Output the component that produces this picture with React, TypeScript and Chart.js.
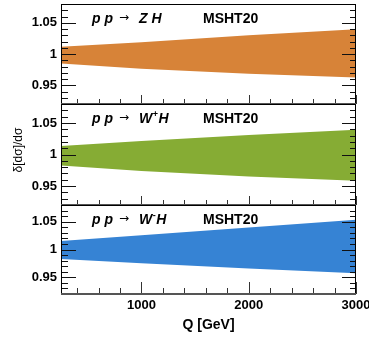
import React, { useEffect, useRef } from "react";
import { Chart, registerables } from "chart.js";

Chart.register(...registerables);

// ---- data ----
const Q = [250, 1000, 2000, 3000];
const zhUpper = [1.0118, 1.019, 1.030, 1.0398];
const zhLower = [0.985, 0.9766, 0.9685, 0.9624];
const wpUpper = [1.0134, 1.0215, 1.0308, 1.0392];
const wpLower = [0.9827, 0.9737, 0.9652, 0.9586];
const wmUpper = [1.0152, 1.0256, 1.0395, 1.0537];
const wmLower = [0.983, 0.9751, 0.9658, 0.9574];
const centralValue = 1;
const xTickValues = [1000, 2000, 3000];
const yTickValues = [0.95, 1, 1.05];
const X_MIN = 250;
const X_MAX = 3000;
const Y_MIN = 0.92;
const Y_MAX = 1.08;
const pdfLabel = "MSHT20";
const xTitle = "Q [GeV]";
const yTitle = "δ[dσ]/dσ";

const FONT = "'Liberation Sans', Arial, sans-serif";

type PanelProps = {
  upper: number[];
  lower: number[];
  color: string;
  boson: string;
  sup: string;
  top: number;
  height: number;
  padTop: number;
  padBottom: number;
  showX: boolean;
  showYTitle: boolean;
  majorX: number;
  minorX: number;
};

function Panel(p: PanelProps) {
  const ref = useRef<HTMLCanvasElement>(null);
  useEffect(() => {
    const framePlugin = {
      id: "frame",
      afterDatasetsDraw(chart: any) {
        const { ctx, chartArea: a, scales } = chart;
        const x = scales.x;
        const y = scales.y;
        ctx.save();
        const seg = (x1: number, y1: number, x2: number, y2: number) => {
          ctx.beginPath();
          ctx.moveTo(x1, y1);
          ctx.lineTo(x2, y2);
          ctx.stroke();
        };
        ctx.lineWidth = 1;
        ctx.strokeStyle = "#111";
        for (let i = 92; i <= 108; i++) {
          const v = i / 100;
          const py = Math.round(y.getPixelForValue(v)) + 0.5;
          const major = i % 5 === 0;
          seg(a.left, py, a.left + (major ? 15 : 7), py);
          seg(a.right - (major ? 14 : 6), py, a.right, py);
        }
        ctx.strokeStyle = "#333";
        for (let q = 400; q <= 3000; q += 200) {
          const px = Math.round(x.getPixelForValue(q)) + 0.5;
          const major = q % 1000 === 0;
          seg(px, a.bottom, px, a.bottom - (major ? p.majorX : p.minorX));
        }
        // frame
        ctx.strokeStyle = "#000";
        ctx.lineWidth = 1;
        seg(Math.round(a.left) + 0.5, a.top, Math.round(a.left) + 0.5, a.bottom);
        seg(Math.round(a.right) - 0.5, a.top, Math.round(a.right) - 0.5, a.bottom);
        seg(a.left, Math.round(a.top) + 0.5, a.right, Math.round(a.top) + 0.5);
        ctx.strokeStyle = "#555";
        ctx.lineWidth = 2;
        seg(a.left, Math.round(a.bottom), a.right, Math.round(a.bottom));
        ctx.restore();
      },
      afterDraw(chart: any) {
        const { ctx, chartArea: a } = chart;
        ctx.save();
        ctx.fillStyle = "#000";
        const base = a.top + 18.5;
        ctx.textBaseline = "alphabetic";
        ctx.font = `italic bold 14px ${FONT}`;
        ctx.fillText("p p", 92, base);
        ctx.font = `12px 'DejaVu Sans', sans-serif`;
        ctx.textBaseline = "middle";
        ctx.fillText("→", 119, a.top + 13.5);
        ctx.textBaseline = "alphabetic";
        ctx.font = `italic bold 14px ${FONT}`;
        let cx = 139;
        ctx.fillText(p.boson, cx, base);
        cx += ctx.measureText(p.boson).width;
        if (p.sup) {
          ctx.font = `bold 9px ${FONT}`;
          ctx.fillText(p.sup, cx + 0.5, base - 6);
          cx += ctx.measureText(p.sup).width + 1;
          ctx.font = `italic bold 14px ${FONT}`;
        } else {
          cx += 4;
        }
        ctx.fillText("H", cx, base);
        ctx.font = `bold 14px ${FONT}`;
        ctx.fillText(pdfLabel, 203, base);
        if (p.showYTitle) {
          ctx.save();
          ctx.translate(19, 150 - p.top);
          ctx.rotate(-Math.PI / 2);
          ctx.textAlign = "center";
          ctx.textBaseline = "middle";
          ctx.font = `12px ${FONT}`;
          ctx.fillText(yTitle, 0, 0);
          ctx.restore();
        }
        ctx.restore();
      },
    };

    const chart = new Chart(ref.current as HTMLCanvasElement, {
      type: "line",
      data: {
        datasets: [
          {
            data: Q.map((q, i) => ({ x: q, y: p.upper[i] })),
            fill: "+1",
            backgroundColor: p.color,
            borderColor: "transparent",
            borderWidth: 0,
            pointRadius: 0,
            tension: 0,
          },
          {
            data: Q.map((q, i) => ({ x: q, y: p.lower[i] })),
            fill: false,
            backgroundColor: p.color,
            borderColor: "transparent",
            borderWidth: 0,
            pointRadius: 0,
            tension: 0,
          },
          {
            data: [
              { x: X_MIN, y: centralValue },
              { x: X_MAX, y: centralValue },
            ],
            fill: false,
            borderColor: "#000",
            borderWidth: 1.3,
            pointRadius: 0,
          },
        ],
      } as any,
      options: {
        animation: false,
        responsive: false,
        maintainAspectRatio: false,
        events: [],
        layout: { padding: { top: p.padTop, bottom: p.padBottom, left: 0, right: 13 } },
        plugins: { legend: { display: false }, tooltip: { enabled: false } },
        scales: {
          x: {
            type: "linear",
            min: X_MIN,
            max: X_MAX,
            display: p.showX,
            grid: { display: false, drawTicks: false },
            border: { display: false },
            ticks: {
              color: "#000",
              padding: 4,
              maxRotation: 0,
              autoSkip: false,
              font: { family: FONT, weight: "bold", size: 13 },
              callback: (v: any) => String(v),
            },
            title: {
              display: true,
              text: xTitle,
              color: "#000",
              font: { family: FONT, weight: "bold", size: 14 },
              padding: { top: 0, bottom: 6 },
            },
            afterBuildTicks: (s: any) => {
              s.ticks = xTickValues.map((v) => ({ value: v }));
            },
            afterFit: (s: any) => {
              if (p.showX) {
                s.height = 46;
              } else {
                s.height = 0;
              }
              s.paddingLeft = 0;
              s.paddingRight = 0;
            },
          },
          y: {
            type: "linear",
            min: Y_MIN,
            max: Y_MAX,
            grid: { display: false, drawTicks: false },
            border: { display: false },
            ticks: {
              color: "#000",
              padding: 4,
              font: { family: FONT, weight: "bold", size: 13 },
              callback: (v: any) => String(v),
            },
            afterBuildTicks: (s: any) => {
              s.ticks = yTickValues.map((v) => ({ value: v }));
            },
            afterFit: (s: any) => {
              s.width = 61;
              s.paddingTop = 0;
              s.paddingBottom = 0;
            },
          },
        },
      } as any,
      plugins: [framePlugin],
    });
    return () => chart.destroy();
  }, []);
  return (
    <canvas
      ref={ref}
      width={369}
      height={p.height}
      style={{ position: "absolute", left: 0, top: p.top, width: 369, height: p.height }}
    />
  );
}

export default function App() {
  return (
    <div
      style={{
        position: "fixed",
        left: 0,
        top: 0,
        width: 369,
        height: 340,
        overflow: "hidden",
        background: "#fff",
      }}
    >
      <Panel
        upper={zhUpper}
        lower={zhLower}
        color="#D78338"
        boson="Z"
        sup=""
        top={0}
        height={110}
        padTop={4}
        padBottom={6}
        showX={false}
        showYTitle={false}
        majorX={9}
        minorX={5}
      />
      <Panel
        upper={wpUpper}
        lower={wpLower}
        color="#86AC34"
        boson="W"
        sup="+"
        top={100}
        height={110}
        padTop={4}
        padBottom={5}
        showX={false}
        showYTitle={true}
        majorX={9}
        minorX={5}
      />
      <Panel
        upper={wmUpper}
        lower={wmLower}
        color="#3683D4"
        boson="W"
        sup="-"
        top={200}
        height={140}
        padTop={5}
        padBottom={0}
        showX={true}
        showYTitle={false}
        majorX={12}
        minorX={6}
      />
    </div>
  );
}
